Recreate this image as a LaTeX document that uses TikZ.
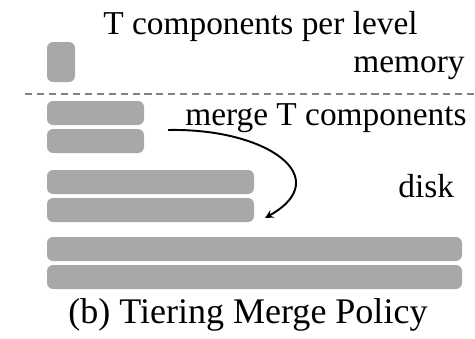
\documentclass[tikz,border=0pt]{standalone}
\usepackage{fontspec}
\setmainfont{Liberation Serif}
\definecolor{bargray}{RGB}{168,168,168}
\tikzset{
  lbl/.style={inner sep=0pt,font=\fontsize{19}{22}\selectfont},
  bar/.style={fill=bargray,rounded corners=3.5}
}
\begin{document}
\begin{tikzpicture}[x=0.02cm,y=-0.02cm]
  \useasboundingbox (0,0) rectangle (475,338);
  \node[lbl,anchor=base west] (title) at (103,34) {T components per level};
  \node[lbl,anchor=base east] (memory) at (465,72) {memory};
  \fill[bar] (47,42) rectangle (75,82);
  \draw[gray,line width=0.9pt,dash pattern=on 4pt off 2.8pt] (25,94) -- (475,94);
  \fill[bar] (47,101) rectangle (144,125);
  \fill[bar] (47,129) rectangle (144,153);
  \fill[bar] (47,170) rectangle (254,194);
  \fill[bar] (47,198) rectangle (254,222);
  \fill[bar] (47,237) rectangle (462,261);
  \fill[bar] (47,265) rectangle (462,289);
  \node[lbl,anchor=base west] (merge) at (185,125) {merge T components};
  \node[lbl,anchor=base west] (disk) at (398,197) {disk};
  \coordinate (mergefrom) at (168,130);
  \coordinate (mergeto) at (265,218);
  \draw[-stealth,line width=1.1pt] (mergefrom) .. controls (268,128) and (336,178) .. (mergeto);
  \node[lbl,anchor=base west,font=\fontsize{20.5}{24}\selectfont] (caption) at (68,323) {(b) Tiering Merge Policy};
\end{tikzpicture}
\end{document}
